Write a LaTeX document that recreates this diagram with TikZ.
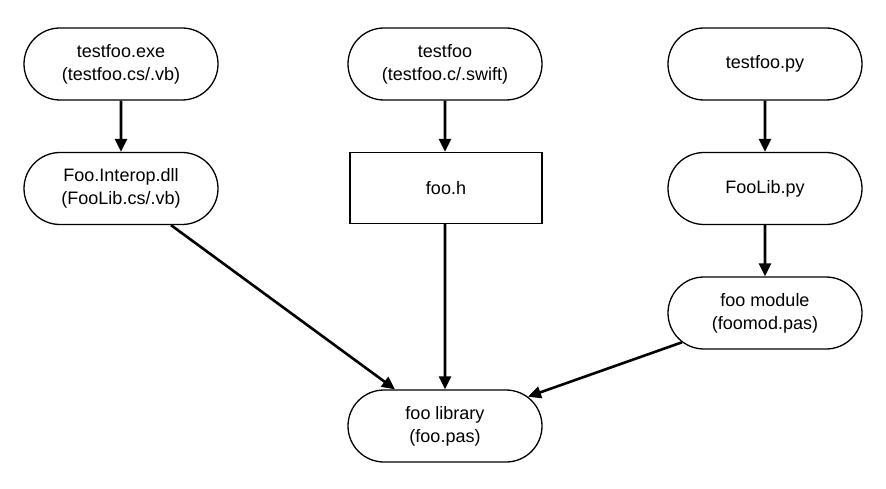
\documentclass[tikz,border=0pt]{standalone}
\usepackage{fontspec}
\setmainfont{Liberation Sans}
\usetikzlibrary{shapes.misc,arrows.meta}
\begin{document}
\begin{tikzpicture}[x=1pt,y=-1pt,
  txt/.style={align=center, font=\fontsize{18}{23}\selectfont, inner sep=0pt, line width=1.3pt, draw},
  pill/.style={txt, rounded rectangle, minimum width=194pt, minimum height=72pt},
  boxnode/.style={txt, rectangle, minimum width=192pt, minimum height=71pt},
  link/.style={line width=2.6pt, -{Triangle[length=13pt,width=12pt]}}]
\useasboundingbox (0,0) rectangle (886,489);
\node[pill] (exe) at (121,64) {testfoo.exe\\(testfoo.cs/.vb)};
\node[pill] (dll) at (121,188.5) {Foo.Interop.dll\\(FooLib.cs/.vb)};
\node[pill] (tf) at (445,64) {testfoo\\(testfoo.c/.swift)};
\node[boxnode] (h) at (446,188) {foo.h};
\node[pill] (py) at (765,64) {testfoo.py};
\node[pill] (flp) at (765,188.5) {FooLib.py};
\node[pill] (mod) at (765,313) {foo module\\(foomod.pas)};
\node[pill] (lib) at (445,426) {foo library\\(foo.pas)};
\draw[link] (exe) -- (dll);
\draw[link] (tf) -- (tf |- h.north);
\draw[link] (py) -- (flp);
\draw[link] (flp) -- (mod);
\draw[link] (dll) -- (lib);
\draw[link] (h.south -| lib) -- (lib);
\draw[link] (mod) -- (lib);
\end{tikzpicture}
\end{document}
